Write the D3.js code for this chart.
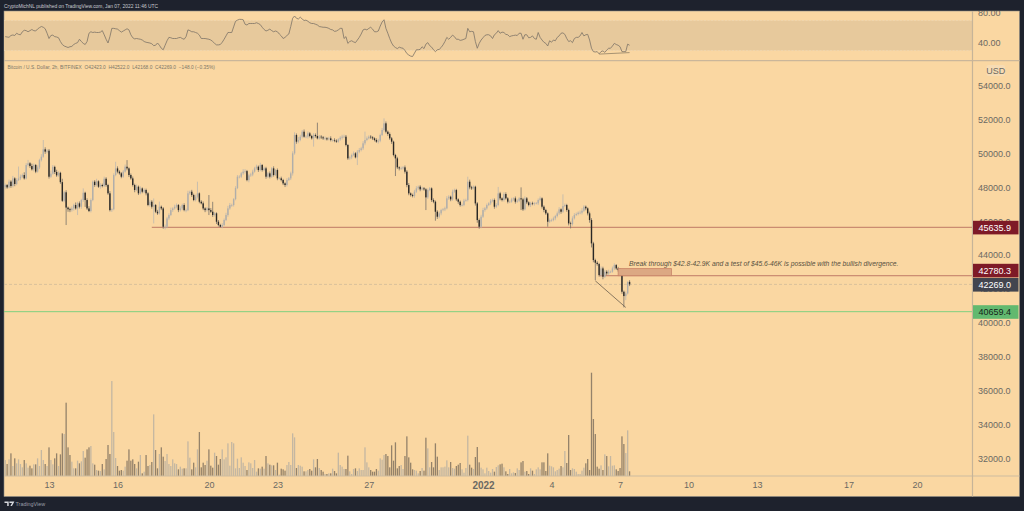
<!DOCTYPE html>
<html>
<head>
<meta charset="utf-8">
<script src="https://d3js.org/d3.v7.min.js"></script>
<style>
html, body { margin: 0; padding: 0; background: #1e222d; }
svg { display: block; font-family: "Liberation Sans", sans-serif; }
</style>
</head>
<body>
<svg id="chart" width="1024" height="511"></svg>
<script>
// 2h bars, first one is Dec 11 02:00 UTC
var firstBar = Date.UTC(2021, 11, 11, 2);
var firstOpen = 48000;

var closes = [
  48130,47990,48330,48070,48520,48190,48425,48520,48620,48720,48520,
  49310,49410,49250,49055,49310,48920,49170,49600,49800,50235,50100,50155,
  48620,48800,49200,48900,48700,48850,48300,47200,47700,46800,46700,46650,
  46750,46950,46750,47050,46850,47245,47675,47245,46750,46595,47245,48325,
  48130,48350,48030,48130,48070,48500,48130,47640,46650,46700,48720,49110,
  48920,48820,48620,48920,49210,49110,48720,48520,48130,47835,48030,47640,
  47930,47735,47835,47640,46950,47145,46850,46950,46555,46460,46850,46750,
  45670,45670,46160,46360,46650,46750,46850,46950,46650,46750,46950,46650,
  46650,47640,47735,47540,47245,47440,47640,47145,47050,46750,46650,46750,
  46650,46555,46360,46460,45965,45770,45670,45770,46065,46360,46750,46950,
  46950,47300,47950,48620,48620,48820,48920,48950,48420,48700,48750,48920,
  49113,49211,49014,49310,49014,49113,48621,48818,48621,49113,48720,49014,
  48523,48523,48424,48228,48130,48424,48523,48818,50000,51080,50686,50785,
  50981,51276,50981,50981,51178,51021,50883,51080,51021,50883,50981,50942,
  50883,50883,50824,50883,50785,50785,50745,50686,50824,50922,50981,50981,
  50490,49703,49762,49900,50000,49762,50096,50195,50293,50588,50785,50883,
  50981,50942,50883,50785,50686,50745,51080,51375,51768,51276,51139,50883,
  50686,49900,49703,49172,49113,49113,49172,48916,48129,47637,47539,47480,
  47736,47933,48031,47874,47933,47874,47401,47834,47933,47244,47146,46556,
  46261,46458,46654,46694,46753,47342,47441,47284,47736,47834,47284,47146,
  46949,46949,47205,47244,48326,47992,47933,48031,47047,46064,45670,46261,
  46654,46753,46949,47048,47205,47245,46851,46950,47638,47343,47245,47599,
  47343,47146,47146,47284,47343,47146,47205,47343,47284,46694,47343,47107,
  46950,47048,47009,47048,47048,47245,47343,46851,46655,46458,45966,46065,
  46065,46163,46300,46458,46694,46556,46891,46950,46655,45868,45828,46163,
  46360,46419,46497,46497,46615,46851,46753,46458,46065,44688,43704,43547,
  43468,42819,43212,42720,43015,42917,43015,43015,43212,43409,43212,43114,
  43015,41835,41580,41737,42417,42269
];

var upperWicks = [
  90,60,120,80,150,70,110,700,130,90,160,
  110,200,70,140,90,60,120,80,150,550,120,90,
  100,180,110,70,130,90,60,200,80,120,60,90,
  120,80,150,90,110,70,255,60,100,130,90,70,
  90,150,60,110,80,120,90,70,130,60,100,390,
  120,80,70,100,130,390,60,90,110,80,130,70,
  120,60,100,80,70,120,90,390,60,110,300,70,
  80,130,90,100,140,70,120,90,60,130,80,100,
  90,150,70,110,80,120,686,60,90,110,70,80,
  790,120,585,80,60,100,70,110,90,130,150,120,
  80,60,110,100,90,80,150,120,70,90,100,110,
  90,120,70,130,60,100,90,80,110,70,120,60,
  90,80,100,70,60,110,80,100,120,160,90,180,
  110,100,130,90,120,80,70,110,90,787,100,90,
  80,110,70,90,120,60,100,80,70,90,110,120,
  100,60,90,80,110,70,100,120,90,130,491,110,
  80,90,70,60,100,110,80,120,295,110,70,90,
  80,60,70,90,60,100,70,110,90,120,60,80,
  110,130,70,90,100,80,70,90,80,60,100,70,
  90,110,70,80,100,130,90,60,120,80,70,60,
  70,90,110,80,295,120,90,70,60,80,90,110,
  130,80,90,70,100,80,90,110,380,90,60,110,
  100,70,80,90,60,110,90,70,650,90,120,80,
  60,90,100,70,80,90,110,60,80,70,60,90,
  80,100,70,110,130,60,690,90,70,80,100,120,
  110,90,80,130,150,90,70,60,100,110,90,80,
  90,70,120,100,110,90,120,70,110,98,60,90,
  100,50,70,110,30,99
];

var lowerWicks = [
  120,80,60,110,90,130,70,60,100,80,70,
  60,90,110,70,120,90,60,100,80,60,130,90,
  110,70,60,120,90,80,100,70,90,1030,150,120,
  90,130,70,390,100,120,110,406,90,60,80,70,
  110,90,70,120,80,60,100,90,80,110,60,70,
  100,80,90,70,60,110,120,80,90,130,70,100,
  60,90,80,120,70,100,110,985,80,90,70,100,
  120,160,90,100,60,110,70,90,120,80,100,70,
  130,60,90,110,70,80,100,90,60,100,120,80,
  290,70,110,90,130,80,40,90,70,60,100,80,
  110,90,70,60,100,80,90,110,70,130,90,100,
  60,80,110,70,90,60,120,80,100,70,90,60,
  110,70,80,100,120,90,60,100,130,80,120,90,
  70,100,60,90,110,80,70,490,90,60,80,100,
  90,110,70,60,80,100,90,70,60,80,110,70,
  80,90,100,110,70,60,453,90,80,100,110,70,
  60,90,100,80,70,110,90,60,80,100,110,90,
  130,80,1043,100,120,90,80,110,130,110,90,80,
  100,70,90,110,60,80,747,90,70,110,90,531,
  130,90,110,70,100,60,90,110,80,70,100,120,
  90,80,70,60,80,110,90,70,130,160,120,90,
  70,100,80,60,100,90,120,80,70,110,80,90,
  70,100,80,60,90,110,70,80,630,90,60,100,
  80,120,70,90,60,100,80,110,130,90,295,80,
  100,70,110,80,90,120,70,60,100,120,255,90,
  70,60,80,90,100,70,110,120,160,240,130,1023,
  100,90,120,150,70,110,90,80,60,100,80,90,
  110,120,669,240,60,101
];

// read as height over the pane floor, arbitrary volume units
var volumes = [
  48,36,50,68,30,53,38,50,36,26,48,38,25,31,23,35,35,53,30,78,48,36,30,86,48,35,53,68,30,65,
  128,126,220,86,63,43,23,23,46,38,44,75,55,80,86,90,38,34,18,16,15,36,20,51,93,66,285,132,54,30,
  16,18,16,28,46,80,46,50,36,23,43,63,8,13,63,30,33,42,185,78,23,66,86,58,45,66,36,30,50,38,
  36,20,28,22,23,23,104,55,20,40,26,80,132,26,40,33,46,80,31,25,70,60,34,51,80,50,56,98,31,102,
  98,23,52,24,56,40,30,18,41,38,24,48,13,23,22,28,22,60,38,34,32,32,18,40,4,22,20,16,33,42,
  33,128,116,24,33,31,28,14,14,18,21,16,50,26,51,24,
  18,13,6,6,8,8,22,15,8,70,33,28,21,21,61,14,6,21,23,15,23,18,18,86,41,26,18,13,13,21,
  16,53,49,63,66,60,26,92,46,101,23,30,33,21,60,119,56,40,20,18,16,8,15,24,16,115,83,26,42,26,
  98,58,18,26,26,28,47,26,42,24,22,30,34,39,20,10,24,121,34,25,21,57,87,41,25,20,8,25,15,10,
  21,13,27,32,35,37,26,14,6,21,8,11,9,23,18,41,45,13,15,6,23,16,6,20,26,20,41,41,15,68,
  31,29,26,14,18,22,30,26,75,39,123,18,23,21,13,6,6,16,25,38,51,18,310,171,126,28,22,32,18,65,
  60,29,60,31,32,20,15,24,119,96,69,137,14
];

var rsi = [
  48.5,48,47.6,50,50.7,50,53,51.5,51,55,57,56.5,55,56.5,58,56.5,56,58.7,60.5,62,
  61,59,53,46,50,50.5,48.5,48,47,42,38,36,35,34,35,35.5,38,39.5,40.5,45,
  42,39.5,38,42,53,55,54,54.5,54,54,54.5,56.5,51,45,40,48.5,59.5,59.5,59,58.5,
  56.5,54.5,56,57.5,59,57.5,51,47,45.5,46,45.5,45,44,42,41,40.5,40,39,36.5,37,
  40,37,33,31,37,43,47.5,47,46,46,46,47,47.5,46,45,48.5,57.5,56.5,55,55,
  54,53,50.5,46,46,46,45.5,45,44,42,39.5,37.5,37.5,38,41,45,49.5,54,54,54,
  61.5,69,70.5,71.5,71.5,71,65,64,66,66,66,66,67,66,64.5,61,58,56,57,58.5,
  56.5,55,56,55,52,49.5,46,47.5,50,52,62,73,76,73,72,74.5,72,70,70.5,69,
  67,66,66,65,64,62,61.5,61,61,60.5,59.5,58,57.5,55.5,56,57.5,59.5,59.5,46,48.5,
  39.5,42,43,41.5,40.5,44,47.5,52,57.5,58.5,57.5,59.5,61,58.5,55,55,56,62.5,68,71,
  59.5,53,46,40,36,34,32.5,34.5,33.5,33,30,26,24,22.5,22,26.5,31,31,31.5,35,
  32.5,38.5,40.5,36.5,34.5,31,28.5,31,31.5,34,37.5,42,47.5,45,47.5,50.5,48.5,45,45,43.5,
  44,45,46,59.5,55,55.5,55,42,33,39.5,44,47,50,51,51,49.5,46,51,53,56.5,
  53,54.5,54,51.5,51,48.5,49.5,50,50.5,50,53,53,45,51,51,47,47.5,49.5,46,45,
  54,47.5,44,41,39.5,36,43,41,44,43,47.5,49.5,53,53.5,51.5,46,42,43,40.5,46,
  47.5,47.5,49.5,54,49.5,51,51.5,44,33,28.5,28,28.5,25.5,28.5,29.5,27.5,30.5,33,33,36,
  39.5,38,37,35,28.5,28.5,28.5,38.5,37
];

var priceTicks = [32000,34000,36000,38000,40000,42000,44000,46000,48000,50000,52000,54000];
var rsiTicks = [40, 80];
var dateTicks = [
  new Date(Date.UTC(2021,11,13)), new Date(Date.UTC(2021,11,16)), new Date(Date.UTC(2021,11,20)),
  new Date(Date.UTC(2021,11,23)), new Date(Date.UTC(2021,11,27)), new Date(Date.UTC(2022,0,1)),
  new Date(Date.UTC(2022,0,4)), new Date(Date.UTC(2022,0,7)), new Date(Date.UTC(2022,0,10)),
  new Date(Date.UTC(2022,0,13)), new Date(Date.UTC(2022,0,17)), new Date(Date.UTC(2022,0,20))
];

// horizontal levels drawn on the chart, start is null when the line crosses the whole pane
var levels = [
  {price: 45635.9, start: 77, color: '#bf7a66', label: '45635.9', labelY: 227.6, fill: '#7e1a27', text: '#fff'},
  {price: 42780.3, start: 312, color: '#bf7a66', label: '42780.3', labelY: 270.6, fill: '#7e1a27', text: '#fff'},
  {price: 40659.4, start: null, color: '#7fd07f', label: '40659.4', labelY: 312, fill: '#62b96f', text: '#14241a'}
];
var lastPrice = 42269.0;

var header = 'CryptoMichNL published on TradingView.com, Jan 07, 2022 11:46 UTC';
var legend = 'Bitcoin / U.S. Dollar, 2h, BITFINEX  O42423.0  H42522.0  L42168.0  C42269.0  \u2212148.0 (\u22120.35%)';
var note = 'Break through $42.8-42.9K and a test of $45.6-46K is possible with the bullish divergence.';

var bg = '#fad7a2';
var paneLeft = 4, paneRight = 1019.5, paneTop = 11, paneBottom = 496.5, axisX = 972.5, rsiBottom = 60.7, timeY = 476;

var svg = d3.select('#chart');

var x = d3.scaleUtc()
  .domain([new Date(Date.UTC(2021,11,13)), new Date(Date.UTC(2022,0,20))])
  .range([49, 917]);
var y = d3.scaleLinear().domain([32000, 54000]).range([458.5, 85.5]);
var yRsi = d3.scaleLinear().domain([40, 80]).range([43, 13]);
var yVol = d3.scaleLinear().domain([0, 310]).range([476, 372.7]);

var bars = closes.map(function (c, i) {
  var o = i == 0 ? firstOpen : closes[i - 1];
  return {
    date: new Date(firstBar + i * 7200000),
    open: o,
    close: c,
    high: Math.max(o, c) + upperWicks[i],
    low: Math.min(o, c) - lowerWicks[i],
    volume: volumes[i],
    rsi: rsi[i]
  };
});

svg.append('rect').attr('x', paneLeft).attr('y', paneTop)
  .attr('width', paneRight - paneLeft).attr('height', paneBottom - paneTop)
  .attr('fill', bg).attr('stroke', '#8d8a86').attr('stroke-width', 0.6);

var defs = svg.append('defs');
defs.append('clipPath').attr('id', 'paneClip').append('rect')
  .attr('x', paneLeft).attr('y', paneTop).attr('width', axisX - paneLeft).attr('height', timeY - paneTop);
defs.append('clipPath').attr('id', 'axisClip').append('rect')
  .attr('x', axisX).attr('y', paneTop).attr('width', paneRight - axisX).attr('height', timeY - paneTop);

// rsi pane
var rsiPane = svg.append('g').attr('clip-path', 'url(#paneClip)');
rsiPane.append('rect').attr('x', paneLeft).attr('width', axisX - paneLeft)
  .attr('y', yRsi(70)).attr('height', yRsi(30) - yRsi(70)).attr('fill', '#e7c99c');
rsiPane.selectAll('line.band').data([70, 30]).join('line').attr('class', 'band')
  .attr('x1', paneLeft).attr('x2', axisX)
  .attr('y1', yRsi).attr('y2', yRsi)
  .attr('stroke', '#efd6b0').attr('stroke-width', 0.8).attr('stroke-dasharray', '2,1.5');
rsiPane.append('path').datum(bars)
  .attr('fill', 'none').attr('stroke', '#83786a').attr('stroke-width', 0.85)
  .attr('d', d3.line().x(function (d) { return x(d.date); }).y(function (d) { return yRsi(d.rsi); }));
// divergence line on the rsi
rsiPane.append('line')
  .attr('x1', x(bars[312].date)).attr('y1', yRsi(25.2))
  .attr('x2', x(bars[328].date)).attr('y2', yRsi(27.2))
  .attr('stroke', '#9d8a6c').attr('stroke-width', 0.9);

// main pane
var pane = svg.append('g').attr('clip-path', 'url(#paneClip)');

pane.append('line').attr('x1', paneLeft).attr('x2', axisX)
  .attr('y1', y(lastPrice)).attr('y2', y(lastPrice))
  .attr('stroke', '#cdb89a').attr('stroke-width', 0.7).attr('stroke-dasharray', '3,2');

pane.selectAll('line.level').data(levels).join('line').attr('class', 'level')
  .attr('x1', function (d) { return d.start === null ? paneLeft : x(bars[d.start].date); })
  .attr('x2', axisX)
  .attr('y1', function (d) { return y(d.price); })
  .attr('y2', function (d) { return y(d.price); })
  .attr('stroke', function (d) { return d.color; })
  .attr('stroke-width', 1);

// volume
pane.selectAll('rect.vol').data(bars).join('rect').attr('class', 'vol')
  .attr('x', function (d) { return x(d.date) - 0.65; })
  .attr('width', 1.3)
  .attr('y', function (d) { return yVol(d.volume); })
  .attr('height', function (d) { return yVol(0) - yVol(d.volume); })
  .attr('fill', function (d) { return d.close < d.open ? '#94826a' : '#c4b7a2'; });

// candles
pane.selectAll('line.wick').data(bars).join('line').attr('class', 'wick')
  .attr('x1', function (d) { return x(d.date); })
  .attr('x2', function (d) { return x(d.date); })
  .attr('y1', function (d) { return y(d.high); })
  .attr('y2', function (d) { return y(d.low); })
  .attr('stroke', function (d) { return d.close < d.open ? '#77716a' : '#bcb8b0'; })
  .attr('stroke-width', 0.8);
pane.selectAll('rect.body').data(bars).join('rect').attr('class', 'body')
  .attr('x', function (d) { return x(d.date) - 0.7; })
  .attr('width', 1.4)
  .attr('y', function (d) { return y(Math.max(d.open, d.close)); })
  .attr('height', function (d) { return Math.max(0.6, Math.abs(y(d.open) - y(d.close))); })
  .attr('fill', function (d) { return d.close < d.open ? '#2a2825' : '#b0aeaa'; });

// drawings: resistance box, falling line, note
pane.append('rect')
  .attr('x', x(bars[322].date)).attr('width', x(new Date(Date.UTC(2022,0,9,6))) - x(bars[322].date))
  .attr('y', y(43200)).attr('height', y(42780.3) - y(43200))
  .attr('fill', '#dca883').attr('stroke', '#c98568').attr('stroke-width', 0.8);
pane.append('line')
  .attr('x1', x(bars[310].date)).attr('y1', y(42480))
  .attr('x2', x(bars[326].date)).attr('y2', y(40910))
  .attr('stroke', '#6c5e4c').attr('stroke-width', 0.8);
pane.append('text').text(note)
  .attr('x', 629).attr('y', 266)
  .attr('font-size', 6.75).attr('font-style', 'italic').attr('fill', '#57503f');

pane.append('text').text(legend).attr('xml:space', 'preserve')
  .attr('x', 7.5).attr('y', 68.7)
  .attr('font-size', 4.85).attr('fill', '#7d7869');

// separators
svg.append('line').attr('x1', paneLeft).attr('x2', paneRight).attr('y1', rsiBottom).attr('y2', rsiBottom)
  .attr('stroke', '#cab69a').attr('stroke-width', 1.2);
svg.append('line').attr('x1', paneLeft).attr('x2', paneRight).attr('y1', timeY).attr('y2', timeY)
  .attr('stroke', '#cdbca0').attr('stroke-width', 1);
svg.append('line').attr('x1', axisX).attr('x2', axisX).attr('y1', paneTop).attr('y2', paneBottom)
  .attr('stroke', '#c6b498').attr('stroke-width', 1.2);

// axes
var axisLayer = svg.append('g').attr('clip-path', 'url(#axisClip)');
function styleAxis(g) {
  g.select('.domain').remove();
  g.selectAll('text').attr('fill', '#6b6963').attr('font-size', 9).attr('font-family', '"Liberation Sans", sans-serif');
}
axisLayer.append('g').attr('transform', 'translate(978,0)')
  .call(d3.axisRight(y).tickValues(priceTicks).tickSize(0).tickPadding(0).tickFormat(d3.format('.1f')))
  .call(styleAxis);
axisLayer.append('g').attr('transform', 'translate(978,0)')
  .call(d3.axisRight(yRsi).tickValues(rsiTicks).tickSize(0).tickPadding(0).tickFormat(d3.format('.2f')))
  .call(styleAxis);

svg.append('g').attr('transform', 'translate(0,' + timeY + ')')
  .call(d3.axisBottom(x).tickValues(dateTicks).tickSize(0).tickPadding(6)
    .tickFormat(function (d) { return d.getUTCDate() == 1 ? '2022' : d.getUTCDate(); }))
  .call(styleAxis)
  .selectAll('text')
  .attr('font-weight', function (d) { return d.getUTCDate() == 1 ? 'bold' : null; })
  .attr('font-size', function (d) { return d.getUTCDate() == 1 ? 10 : 9; });

// USD tag
svg.append('rect').attr('x', 986.5).attr('y', 65).attr('width', 18.5).attr('height', 11).attr('rx', 2)
  .attr('fill', '#f7dcb4');
svg.append('text').text('USD').attr('x', 995.7).attr('y', 73.6)
  .attr('text-anchor', 'middle').attr('font-size', 9).attr('fill', '#6b6963');

// price labels
var priceLabels = levels.concat([
  {label: lastPrice.toFixed(1), labelY: 284.8, fill: '#42454f', text: '#fff'}
]);
var tags = svg.selectAll('g.tag').data(priceLabels).join('g').attr('class', 'tag')
  .attr('transform', function (d) { return 'translate(973,' + d.labelY + ')'; });
tags.append('rect').attr('x', 0).attr('y', -6.8).attr('width', 45.5).attr('height', 13.6)
  .attr('fill', function (d) { return d.fill; });
tags.append('text').text(function (d) { return d.label; })
  .attr('x', 5.5).attr('y', 3.2).attr('font-size', 9)
  .attr('fill', function (d) { return d.text; });

// header and footer
svg.append('text').text(header).attr('x', 4).attr('y', 7.8)
  .attr('font-size', 4.9).attr('fill', '#c9cbd1');
svg.append('path').attr('d', 'M4.5 501.5h4.2v4.6h-1.5v-3.2h-2.7zM9.4 501.5h5l-2.4 4.6h-1.6l1.6-3.2h-2.6z')
  .attr('fill', '#d6d8dd');
svg.append('text').text('TradingView').attr('x', 15.5).attr('y', 506)
  .attr('font-size', 5.4).attr('fill', '#9a9da6');
</script>
</body>
</html>
